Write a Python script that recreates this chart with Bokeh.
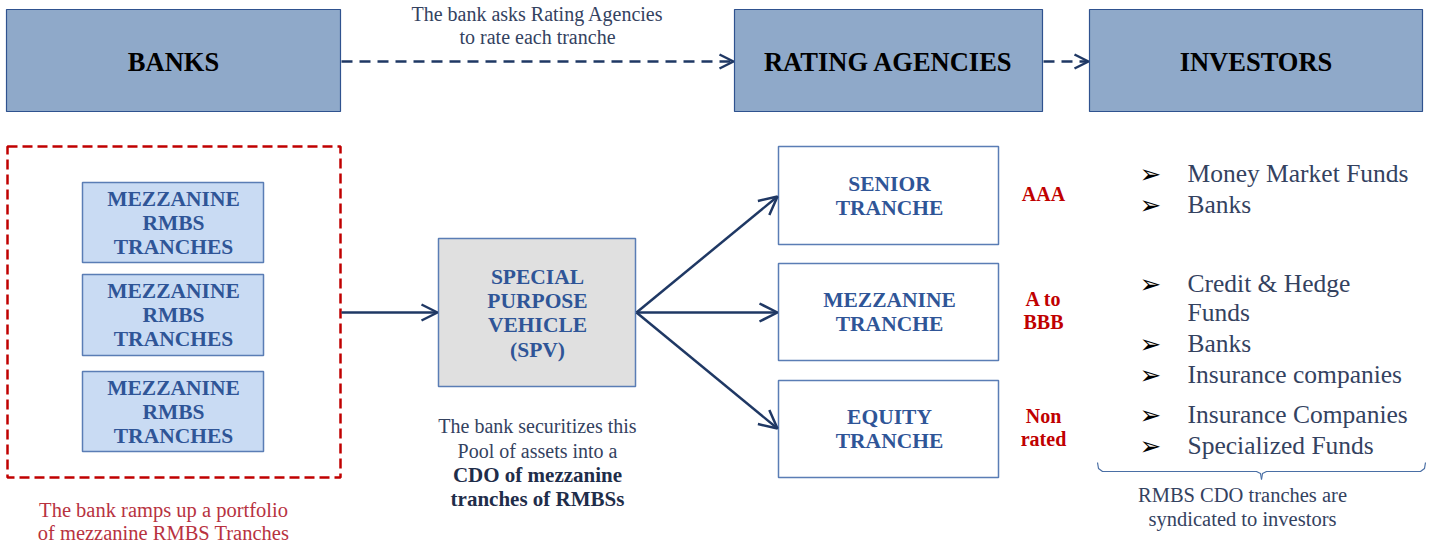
from bokeh.plotting import figure
from bokeh.models import Range1d, Arrow, OpenHead
from bokeh.core.properties import value
from bokeh.embed import file_html
from bokeh.resources import INLINE

# ---------------- data ----------------
header_labels = ["BANKS", "RATING AGENCIES", "INVESTORS"]
header_left = [6, 734, 1089]
header_right = [340, 1042, 1422]

mezz_label = ["MEZZANINE", "RMBS", "TRANCHES"]
mezz_top = [182, 274, 371]
mezz_bottom = [262, 355, 451]

spv_label = ["SPECIAL", "PURPOSE", "VEHICLE", "(SPV)"]

tranche_labels = [["SENIOR", "TRANCHE"], ["MEZZANINE", "TRANCHE"], ["EQUITY", "TRANCHE"]]
tranche_top = [146, 263, 380]
tranche_bottom = [244, 360, 477]
ratings = [["AAA"], ["A to", "BBB"], ["Non", "rated"]]

investor_lines = ["Money Market Funds", "Banks", "Credit & Hedge", "Funds", "Banks",
                  "Insurance companies", "Insurance Companies", "Specialized Funds"]
investor_bullet = [True, True, True, False, True, True, True, True]
investor_y = [173, 204, 283, 312, 343, 374, 414, 445]

note_top = ["The bank asks Rating Agencies", "to rate each tranche"]
note_left = ["The bank ramps up a portfolio", "of mezzanine RMBS Tranches"]
note_spv = ["The bank securitizes this", "Pool of assets into a"]
note_spv_bold = ["CDO of mezzanine", "tranches of RMBSs"]
note_inv = ["RMBS CDO tranches are", "syndicated to investors"]

# ---------------- styles ----------------
SERIF = value("Liberation Serif")
NAVY = "#1F3864"
BOXTXT = "#2F5597"
BODY = "#34425F"
RED = "#C00000"
RED2 = "#B8323F"
HEAD_FILL = "#8FA9C9"
HEAD_LINE = "#2F528F"
BORDER = "#5A7DB5"

p = figure(width=1430, height=544, output_backend="svg", toolbar_location=None,
           x_range=Range1d(0, 1430), y_range=Range1d(544, 0), min_border=0)
p.axis.visible = False
p.grid.visible = False
p.outline_line_color = None
p.background_fill_color = "white"


def txt(xs, ys, texts, color, size, style="normal", align="center", font=SERIF):
    p.text(x=xs, y=ys, text=texts, text_color=color, text_font_size=f"{size}px",
           text_font_style=style, text_align=align, text_baseline="middle", text_font=font)


# header boxes
p.quad(left=header_left, right=header_right, top=[9] * 3, bottom=[111] * 3,
       fill_color=HEAD_FILL, line_color=HEAD_LINE, line_width=1.2)
txt([(a + b) / 2 for a, b in zip(header_left, header_right)], [61] * 3, header_labels,
    "black", 26.5, "bold")

# dashed arrows at top
for xs, xe in [(341, 733), (1043, 1088)]:
    p.add_layout(Arrow(end=OpenHead(size=14, line_color=NAVY, line_width=2.5),
                       x_start=xs, y_start=61, x_end=xe, y_end=61,
                       line_color=NAVY, line_width=2.5, line_dash="11 7"))
txt([537, 537], [13, 36], note_top, BODY, 20)

# red dashed portfolio box
p.quad(left=[7], right=[340], top=[146], bottom=[477], fill_color=None,
       line_color=RED, line_width=2.5, line_dash="10 5")
p.quad(left=[82] * 3, right=[263] * 3, top=mezz_top, bottom=mezz_bottom,
       fill_color="#C9DBF3", line_color=BORDER, line_width=1.5)
for t in mezz_top:
    txt([173] * 3, [t + 16, t + 40, t + 64], mezz_label, BOXTXT, 21.5, "bold")
txt([163, 163], [509, 532], note_left, RED2, 20.5)

# arrow into SPV
p.add_layout(Arrow(end=OpenHead(size=16, line_color=NAVY, line_width=2.5),
                   x_start=341, y_start=312, x_end=437, y_end=312,
                   line_color=NAVY, line_width=2.5))

# SPV box
p.quad(left=[438], right=[635], top=[238], bottom=[386], fill_color="#E0E0E0",
       line_color=BORDER, line_width=1.5)
txt([537] * 4, [276, 300, 324, 349], spv_label, BOXTXT, 21.5, "bold")
txt([537] * 2, [425, 450], note_spv, BODY, 20)
txt([537] * 2, [474, 498], note_spv_bold, "#1F2D4A", 21, "bold")

# arrows to tranches
for ye in [196, 312, 428]:
    p.add_layout(Arrow(end=OpenHead(size=18, line_color=NAVY, line_width=2.5),
                       x_start=636, y_start=312, x_end=777, y_end=ye,
                       line_color=NAVY, line_width=2.5))

# tranche boxes
p.quad(left=[778] * 3, right=[998] * 3, top=tranche_top, bottom=tranche_bottom,
       fill_color="white", line_color=BORDER, line_width=1.5)
for t, b, lab, rat in zip(tranche_top, tranche_bottom, tranche_labels, ratings):
    c = (t + b) / 2
    txt([889] * 2, [c - 12, c + 12], lab, BOXTXT, 21.5, "bold")
    if len(rat) == 1:
        txt([1043], [c - 2], rat, RED, 20, "bold")
    else:
        txt([1043] * 2, [c - 13, c + 10], rat, RED, 20, "bold")

# investor list
bx = [1150 for b in investor_bullet if b]
by = [y for y, b in zip(investor_y, investor_bullet) if b]
txt(bx, by, ["\u27A2"] * len(bx), "black", 26, font=value("DejaVu Sans"))
txt([1187] * len(investor_lines), investor_y, investor_lines, BODY, 25.5, align="left")

# brace
p.line([1097, 1098, 1102, 1256, 1260, 1261], [462, 468, 471, 471, 473, 479],
       line_color="#4A6FA5", line_width=1.2)
p.line([1261, 1262, 1266, 1420, 1424, 1425], [479, 473, 471, 471, 468, 462],
       line_color="#4A6FA5", line_width=1.2)
txt([1242, 1242], [494, 518], note_inv, BODY, 20.5)

open("out.html", "w").write(file_html(p, INLINE))
